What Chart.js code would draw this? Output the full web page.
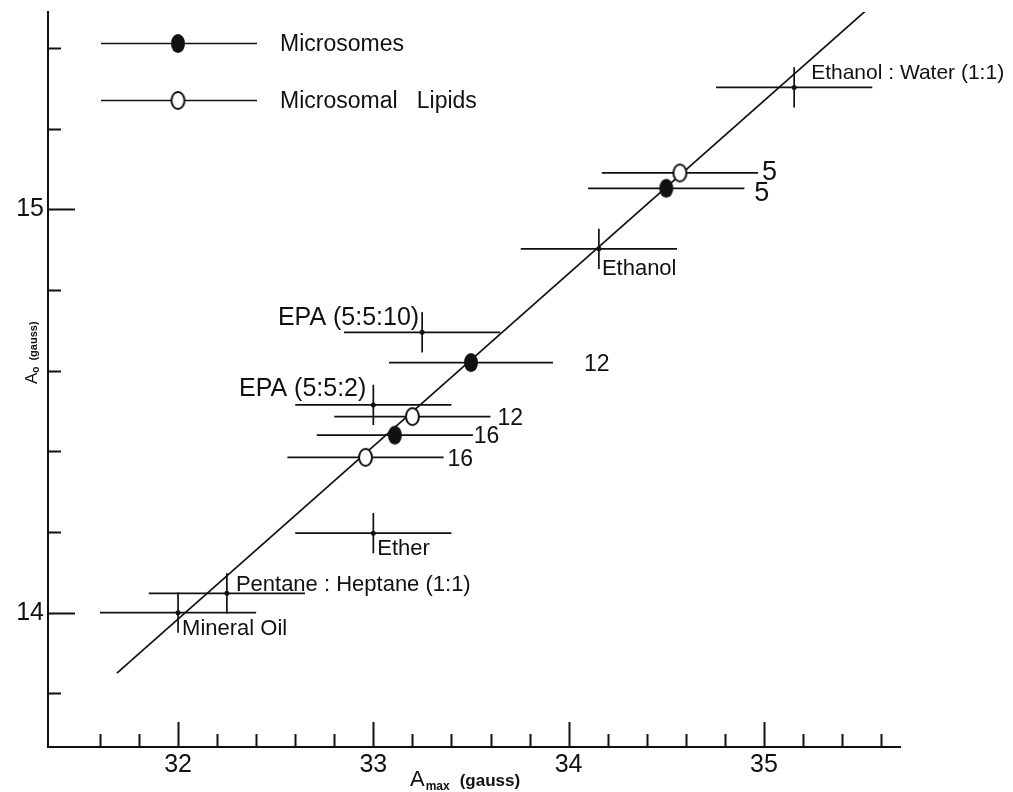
<!DOCTYPE html>
<html>
<head>
<meta charset="utf-8">
<script src="https://cdn.jsdelivr.net/npm/chart.js@4.4.1/dist/chart.umd.min.js"></script>
<style>
html,body{margin:0;padding:0;background:#ffffff;}
#wrap{width:1013px;height:792px;position:relative;}
</style>
</head>
<body>
<div id="wrap"><canvas id="c" width="1013" height="792"></canvas></div>
<script>
// ---------------- DATA ----------------
const microsomesX = [34.50, 33.50, 33.11];
const microsomesY = [15.052, 14.620, 14.440];
const microsomesXErr = [0.40, 0.42, 0.40];
const microsomesLabels = ['5', '12', '16'];

const lipidsX = [34.57, 33.20, 32.96];
const lipidsY = [15.090, 14.486, 14.385];
const lipidsXErr = [0.40, 0.40, 0.40];
const lipidsLabels = ['5', '12', '16'];

const solventNames = ['Ethanol : Water (1:1)', 'Ethanol', 'EPA (5:5:10)', 'EPA (5:5:2)', 'Ether', 'Pentane : Heptane (1:1)', 'Mineral Oil'];
const solventX = [35.155, 34.155, 33.25, 33.00, 33.00, 32.25, 32.00];
const solventY = [15.302, 14.902, 14.695, 14.515, 14.197, 14.048, 14.000];
const solventXErr = [0.40, 0.40, 0.40, 0.40, 0.40, 0.40, 0.40];
const solventYErr = [0.05, 0.05, 0.05, 0.05, 0.05, 0.05, 0.05];

const fitX = [31.687, 35.526];
const fitY = [13.850, 15.494];

const legendLabels = ['Microsomes', 'Microsomal   Lipids'];

const xMajorTicks = [32, 33, 34, 35];
const xTickLabels = ['32', '33', '34', '35'];
const xMinorTicks = [31.6, 31.8, 32.2, 32.4, 32.6, 32.8, 33.2, 33.4, 33.6, 33.8, 34.2, 34.4, 34.6, 34.8, 35.2, 35.4, 35.6];
const yMajorTicks = [14, 15];
const yTickLabels = ['14', '15'];
const yMinorTicks = [13.8, 14.2, 14.4, 14.6, 14.8, 15.2, 15.4];

// ---------------- STYLE / LAYOUT ----------------
const INK = '#111111';
const FAMILY = '"Liberation Sans", Arial, sans-serif';
const solventLabelDx = [17, 3, -3, -7, 4, 9, 4];
const solventLabelDy = [-8, 26, -7, -9, 22, -2, 22];
const solventLabelAlign = ['left', 'left', 'right', 'right', 'left', 'left', 'left'];
const solventLabelSize = [21, 22, 25, 25, 22, 22, 22];
const microsomesLabelDx = [88, 113, 79];
const microsomesLabelDy = [13, 8, 8];
const lipidsLabelDx = [82, 85, 82];
const lipidsLabelDy = [7, 8, 9];
const numLabelSize = [27, 23, 23];

function ellipseMarker(filled, w, h) {
  const c = document.createElement('canvas');
  c.width = w + 4; c.height = h + 4;
  const g = c.getContext('2d');
  g.beginPath();
  g.ellipse(c.width / 2, c.height / 2, w / 2, h / 2, 0, 0, Math.PI * 2);
  if (filled) {
    g.fillStyle = INK; g.fill();
  } else {
    g.fillStyle = '#ffffff'; g.fill();
    g.lineWidth = 2; g.strokeStyle = INK; g.stroke();
  }
  return c;
}
const filledMarker = ellipseMarker(true, 14, 19);
const openMarker = ellipseMarker(false, 13, 17);

const pts = (xs, ys) => xs.map((v, i) => ({x: v, y: ys[i]}));
const isMajor = (v, arr) => arr.findIndex(m => Math.abs(m - v) < 1e-6);

// ---------------- PLUGINS ----------------
const errorBars = {
  id: 'errorBars',
  beforeDatasetsDraw(chart) {
    const {ctx, scales: {x, y}} = chart;
    ctx.save();
    ctx.strokeStyle = INK;
    ctx.lineWidth = 1.7;
    chart.data.datasets.forEach(ds => {
      if (!ds.xErr) return;
      ds.data.forEach((p, i) => {
        const px = x.getPixelForValue(p.x), py = y.getPixelForValue(p.y);
        ctx.beginPath();
        ctx.moveTo(x.getPixelForValue(p.x - ds.xErr[i]), py);
        ctx.lineTo(x.getPixelForValue(p.x + ds.xErr[i]), py);
        ctx.stroke();
        if (ds.yErr) {
          ctx.beginPath();
          ctx.moveTo(px, y.getPixelForValue(p.y + ds.yErr[i]));
          ctx.lineTo(px, y.getPixelForValue(p.y - ds.yErr[i]));
          ctx.stroke();
        }
      });
    });
    ctx.restore();
  }
};

const pointLabels = {
  id: 'pointLabels',
  afterDatasetsDraw(chart) {
    const {ctx, scales: {x, y}} = chart;
    ctx.save();
    ctx.fillStyle = INK;
    ctx.textBaseline = 'alphabetic';
    solventNames.forEach((name, i) => {
      ctx.font = solventLabelSize[i] + 'px ' + FAMILY;
      ctx.textAlign = solventLabelAlign[i];
      ctx.fillText(name, x.getPixelForValue(solventX[i]) + solventLabelDx[i], y.getPixelForValue(solventY[i]) + solventLabelDy[i]);
    });
    ctx.textAlign = 'left';
    microsomesLabels.forEach((t, i) => {
      ctx.font = numLabelSize[i] + 'px ' + FAMILY;
      ctx.fillText(t, x.getPixelForValue(microsomesX[i]) + microsomesLabelDx[i], y.getPixelForValue(microsomesY[i]) + microsomesLabelDy[i]);
    });
    lipidsLabels.forEach((t, i) => {
      ctx.font = numLabelSize[i] + 'px ' + FAMILY;
      ctx.fillText(t, x.getPixelForValue(lipidsX[i]) + lipidsLabelDx[i], y.getPixelForValue(lipidsY[i]) + lipidsLabelDy[i]);
    });
    ctx.restore();
  }
};

const innerTicks = {
  id: 'innerTicks',
  afterDraw(chart) {
    const {ctx, chartArea: a, scales: {x, y}} = chart;
    ctx.save();
    ctx.strokeStyle = INK;
    ctx.lineWidth = 2;
    x.ticks.forEach(t => {
      const px = Math.round(x.getPixelForValue(t.value)) + 0.5;
      const len = isMajor(t.value, xMajorTicks) >= 0 ? 25 : 13;
      ctx.beginPath(); ctx.moveTo(px, a.bottom); ctx.lineTo(px, a.bottom - len); ctx.stroke();
    });
    y.ticks.forEach(t => {
      const py = Math.round(y.getPixelForValue(t.value)) + 0.5;
      const len = isMajor(t.value, yMajorTicks) >= 0 ? 27 : 13;
      ctx.beginPath(); ctx.moveTo(a.left, py); ctx.lineTo(a.left + len, py); ctx.stroke();
    });
    ctx.restore();
  }
};

const axisTitles = {
  id: 'axisTitles',
  afterDraw(chart) {
    const ctx = chart.ctx;
    ctx.save();
    ctx.fillStyle = INK;
    ctx.textBaseline = 'alphabetic';
    ctx.textAlign = 'left';
    // x title: A_max (gauss)
    let cx = 410, by = 786;
    ctx.font = '22px ' + FAMILY;
    ctx.fillText('A', cx, by); cx += ctx.measureText('A').width + 1;
    ctx.font = 'bold 12px ' + FAMILY;
    ctx.fillText('max', cx, by + 4); cx += ctx.measureText('max').width + 10;
    ctx.font = 'bold 17px ' + FAMILY;
    ctx.fillText('(gauss)', cx, by);
    // y title: A_o (gauss), rotated
    ctx.translate(37, 384);
    ctx.rotate(-Math.PI / 2);
    let tx = 0;
    ctx.font = '17px ' + FAMILY;
    ctx.fillText('A', tx, 0); tx += ctx.measureText('A').width;
    ctx.font = 'bold 10px ' + FAMILY;
    ctx.fillText('o', tx, 2); tx += ctx.measureText('o').width + 6;
    ctx.font = 'bold 11px ' + FAMILY;
    ctx.fillText('(gauss)', tx, 0);
    ctx.restore();
  }
};

const manualLegend = {
  id: 'manualLegend',
  afterDraw(chart) {
    const ctx = chart.ctx;
    const rows = [{y: 43.5, marker: filledMarker}, {y: 100.5, marker: openMarker}];
    ctx.save();
    ctx.strokeStyle = INK; ctx.lineWidth = 1.7; ctx.fillStyle = INK;
    ctx.font = '23px ' + FAMILY; ctx.textAlign = 'left'; ctx.textBaseline = 'middle';
    rows.forEach((r, i) => {
      ctx.beginPath(); ctx.moveTo(101, r.y); ctx.lineTo(257, r.y); ctx.stroke();
      ctx.drawImage(r.marker, 178 - r.marker.width / 2, r.y - r.marker.height / 2);
      ctx.fillText(legendLabels[i], 280, r.y + 1);
    });
    ctx.restore();
  }
};

// ---------------- CHART ----------------
new Chart(document.getElementById('c'), {
  type: 'scatter',
  data: {
    datasets: [
      {
        label: 'Fit', type: 'line', data: pts(fitX, fitY),
        borderColor: INK, borderWidth: 1.7, pointRadius: 0, fill: false, tension: 0, order: 10
      },
      {
        label: 'Solvents', data: pts(solventX, solventY),
        pointStyle: 'circle', pointRadius: 2.5, backgroundColor: INK, borderColor: INK, borderWidth: 0,
        xErr: solventXErr, yErr: solventYErr, order: 5
      },
      {
        label: 'Microsomes', data: pts(microsomesX, microsomesY),
        pointStyle: filledMarker, pointRadius: 8, xErr: microsomesXErr, order: 1
      },
      {
        label: 'Microsomal Lipids', data: pts(lipidsX, lipidsY),
        pointStyle: openMarker, pointRadius: 8, xErr: lipidsXErr, order: 1
      }
    ]
  },
  options: {
    responsive: false,
    animation: false,
    events: [],
    layout: {padding: {top: 12, right: 113, left: 0, bottom: 0}},
    plugins: {legend: {display: false}, tooltip: {enabled: false}},
    scales: {
      x: {
        type: 'linear', position: 'bottom', min: 31.334, max: 35.697,
        afterBuildTicks: s => { s.ticks = xMajorTicks.concat(xMinorTicks).sort((a, b) => a - b).map(v => ({value: v})); },
        afterFit: s => { s.height = 45; s.paddingLeft = 0; s.paddingRight = 0; s.paddingTop = 0; s.paddingBottom = 0; },
        grid: {display: false, drawTicks: false},
        border: {display: true, color: INK, width: 2},
        ticks: {
          autoSkip: false, maxRotation: 0, minRotation: 0, padding: 3, color: INK,
          font: {family: FAMILY, size: 25},
          callback: v => { const i = isMajor(v, xMajorTicks); return i >= 0 ? xTickLabels[i] : ''; }
        }
      },
      y: {
        type: 'linear', position: 'left', min: 13.667, max: 15.489,
        afterBuildTicks: s => { s.ticks = yMajorTicks.concat(yMinorTicks).sort((a, b) => a - b).map(v => ({value: v})); },
        afterFit: s => { s.width = 48; s.paddingLeft = 0; s.paddingRight = 0; s.paddingTop = 0; s.paddingBottom = 0; },
        grid: {display: false, drawTicks: false},
        border: {display: true, color: INK, width: 2},
        ticks: {
          autoSkip: false, padding: 4, color: INK,
          font: {family: FAMILY, size: 25},
          callback: v => { const i = isMajor(v, yMajorTicks); return i >= 0 ? yTickLabels[i] : ''; }
        }
      }
    }
  },
  plugins: [errorBars, pointLabels, innerTicks, axisTitles, manualLegend]
});
</script>
</body>
</html>
